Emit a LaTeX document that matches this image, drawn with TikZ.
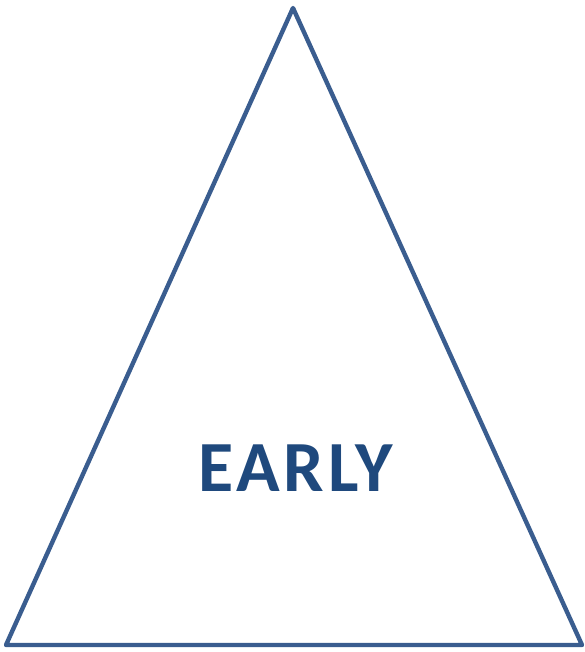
\documentclass[tikz,border=0pt]{standalone}
\usepackage{fontspec}
\setsansfont{Carlito}
\definecolor{edge}{HTML}{3A5D8F}
\definecolor{word}{HTML}{1F497D}
\tikzset{
  every node/.style = {font=\sffamily},
  pyrside/.style    = {draw=edge, line width=4.4pt, line join=round},
  pyrlabel/.style   = {font=\sffamily\bfseries\fontsize{72}{80}\selectfont\addfontfeatures{LetterSpace=5},
                       text=word, inner sep=0pt},
}
\begin{document}
\begin{tikzpicture}[x=1pt, y=1pt]
\useasboundingbox (0,0) rectangle (584,652);

\coordinate (top)   at (293,644);
\coordinate (left)  at (6,7);
\coordinate (right) at (582,7);
\draw[pyrside] (top) -- (left) -- (right) -- cycle;

\node[pyrlabel] (early) at (296,184) {EARLY};
\end{tikzpicture}
\end{document}
